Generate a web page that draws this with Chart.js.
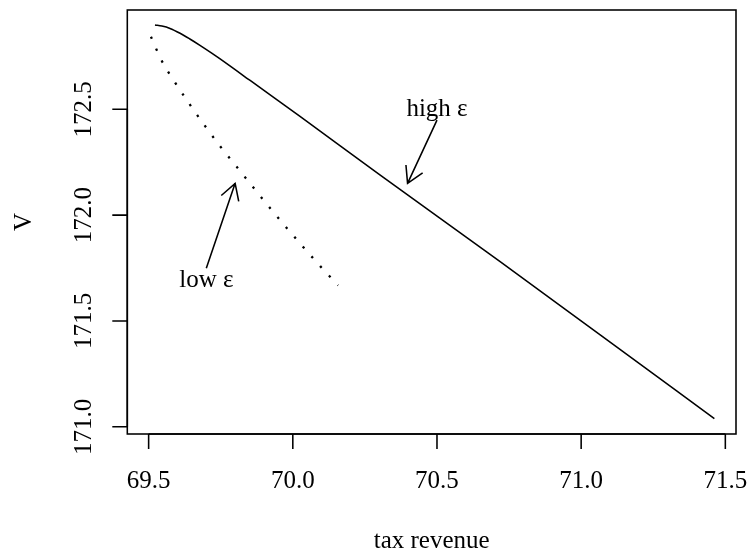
<!DOCTYPE html>
<html><head><meta charset="utf-8">
<script src="https://cdn.jsdelivr.net/npm/chart.js@4"></script>
<style>html,body{margin:0;padding:0;background:#fff;} #c{display:block;}</style>
</head><body>
<canvas id="c" width="748" height="555"></canvas>
<script>
// ---- data ----
const highEpsRevenue = [69.522, 69.546, 69.574, 69.609, 69.643, 69.678, 69.720, 69.771, 69.852, 70.025, 70.302, 70.719, 71.066, 71.462];
const highEpsV       = [172.898, 172.893, 172.882, 172.859, 172.832, 172.802, 172.764, 172.716, 172.636, 172.466, 172.190, 171.780, 171.434, 171.039];
const lowEpsRevenue  = [69.508, 69.545, 69.591, 69.642, 69.694, 69.747, 69.805, 69.861, 69.918, 69.976, 70.035, 70.095, 70.157];
const lowEpsV        = [172.843, 172.730, 172.628, 172.524, 172.424, 172.327, 172.229, 172.134, 172.038, 171.944, 171.851, 171.759, 171.668];
const xTickValues = [69.5, 70.0, 70.5, 71.0, 71.5];
const xTickLabels = ["69.5", "70.0", "70.5", "71.0", "71.5"];
const yTickValues = [171.0, 171.5, 172.0, 172.5];
const yTickLabels = ["171.0", "171.5", "172.0", "172.5"];
const xTitle = "tax revenue";
const yTitle = "V";
const noteLabels = ["high ε", "low ε"];
const noteTextX  = [70.5, 69.7];
const noteTextY  = [172.47, 171.66];
const noteFromX  = [70.5, 69.7];
const noteFromY  = [172.449, 171.749];
const noteToX    = [70.398, 69.800];
const noteToY    = [172.150, 172.150];
const xLimits = [69.426, 71.537];
const yLimits = [170.966, 172.969];

// ---- styling ----
const FONT = '25px "Liberation Serif", "Times New Roman", serif';
const LW = 1.56;
const LINE = 30; // one R margin line in px

function toPts(xs, ys) { return xs.map((x, i) => ({x: x, y: ys[i]})); }

const rAxes = {
  id: 'rAxes',
  afterDraw(chart) {
    const ctx = chart.ctx, a = chart.chartArea;
    const xs = chart.scales.x, ys = chart.scales.y;
    ctx.save();
    ctx.strokeStyle = '#000'; ctx.fillStyle = '#000'; ctx.lineWidth = LW;
    ctx.strokeRect(a.left, a.top, a.right - a.left, a.bottom - a.top);
    ctx.beginPath();
    ctx.moveTo(xs.getPixelForValue(xTickValues[0]), a.bottom);
    ctx.lineTo(xs.getPixelForValue(xTickValues[xTickValues.length-1]), a.bottom);
    xTickValues.forEach(v => { const p = xs.getPixelForValue(v); ctx.moveTo(p, a.bottom); ctx.lineTo(p, a.bottom + LINE/2); });
    ctx.stroke();
    ctx.font = FONT; ctx.textAlign = 'center'; ctx.textBaseline = 'alphabetic';
    xTickValues.forEach((v, i) => ctx.fillText(xTickLabels[i], xs.getPixelForValue(v), a.bottom + 1.8*LINE));
    ctx.fillText(xTitle, (a.left + a.right)/2, a.bottom + 3.8*LINE);
    ctx.beginPath();
    ctx.moveTo(a.left, ys.getPixelForValue(yTickValues[0]));
    ctx.lineTo(a.left, ys.getPixelForValue(yTickValues[yTickValues.length-1]));
    yTickValues.forEach(v => { const p = ys.getPixelForValue(v); ctx.moveTo(a.left, p); ctx.lineTo(a.left - LINE/2, p); });
    ctx.stroke();
    yTickValues.forEach((v, i) => {
      ctx.save(); ctx.translate(a.left - 1.2*LINE, ys.getPixelForValue(v)); ctx.rotate(-Math.PI/2);
      ctx.fillText(yTickLabels[i], 0, 0); ctx.restore();
    });
    ctx.save(); ctx.translate(a.left - 3.2*LINE, (a.top + a.bottom)/2); ctx.rotate(-Math.PI/2);
    ctx.fillText(yTitle, 0, 0); ctx.restore();
    noteLabels.forEach((t, i) => {
      ctx.fillText(t, xs.getPixelForValue(noteTextX[i]), ys.getPixelForValue(noteTextY[i]));
      const x0 = xs.getPixelForValue(noteFromX[i]), y0 = ys.getPixelForValue(noteFromY[i]);
      const x1 = xs.getPixelForValue(noteToX[i]), y1 = ys.getPixelForValue(noteToY[i]);
      const ang = Math.atan2(y0 - y1, x0 - x1), L = 18.4, h = Math.PI/6;
      ctx.beginPath();
      ctx.moveTo(x0, y0); ctx.lineTo(x1, y1);
      ctx.moveTo(x1 + L*Math.cos(ang + h), y1 + L*Math.sin(ang + h));
      ctx.lineTo(x1, y1);
      ctx.lineTo(x1 + L*Math.cos(ang - h), y1 + L*Math.sin(ang - h));
      ctx.stroke();
    });
    ctx.restore();
  }
};

new Chart(document.getElementById('c'), {
  type: 'scatter',
  data: {
    datasets: [
      { label: 'high ε', data: toPts(highEpsRevenue, highEpsV), showLine: true, pointRadius: 0,
        borderColor: '#000', borderWidth: LW, cubicInterpolationMode: 'monotone', fill: false },
      { label: 'low ε', data: toPts(lowEpsRevenue, lowEpsV), showLine: true, pointRadius: 0,
        borderColor: '#000', borderWidth: 2.3, borderDash: [2.3, 10.7], borderCapStyle: 'butt',
        cubicInterpolationMode: 'monotone', fill: false }
    ]
  },
  options: {
    responsive: false, animation: false, devicePixelRatio: 1,
    layout: { padding: { left: 127.3, right: 12, top: 10, bottom: 121 } },
    plugins: { legend: { display: false }, tooltip: { enabled: false } },
    scales: {
      x: { type: 'linear', display: false, min: xLimits[0], max: xLimits[1] },
      y: { type: 'linear', display: false, min: yLimits[0], max: yLimits[1] }
    }
  },
  plugins: [rAxes]
});
</script>
</body></html>
